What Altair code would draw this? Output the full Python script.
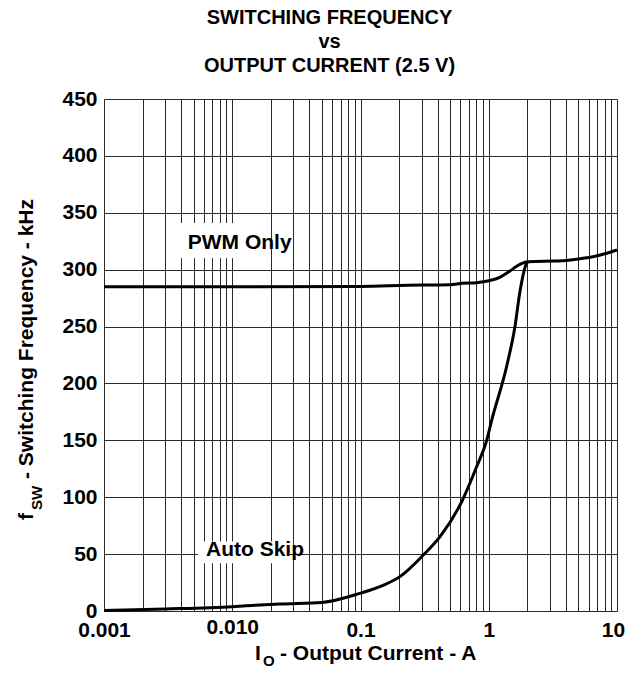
import altair as alt
import pandas as pd

# ---- data ----
pwm_x = [0.001, 0.01, 0.1, 0.2, 0.3, 0.5, 0.62, 0.8, 0.9, 1.02, 1.22, 1.47, 1.65, 1.86, 2.03, 3.2, 4.05, 5.14, 6.5, 8.3, 10]
pwm_y = [285, 285, 285.3, 286, 286.5, 286.8, 288, 288.5, 289.4, 290.5, 293.3, 299, 303, 306, 307, 307.6, 308, 309.6, 311.4, 314.4, 317.3]

skip_x = [0.001, 0.003, 0.01, 0.0164, 0.0236, 0.05, 0.099, 0.15, 0.203, 0.309, 0.417, 0.615, 0.804, 0.964, 1.055, 1.377, 1.60, 1.75, 1.97, 2.03]
skip_y = [0.5, 1.8, 3.8, 5.3, 6.2, 7.5, 15.5, 22.5, 30.2, 49.2, 65.3, 96, 126.8, 150, 167.8, 214.7, 249.8, 280.6, 305.5, 307]

x_tick_values = [0.001, 0.01, 0.1, 1, 10]
x_tick_labels = ["0.001", "0.010", "0.1", "1", "10"]
x_grid_values = sorted(set([m * 10.0 ** k for k in range(-3, 1) for m in range(1, 10)] + x_tick_values))
y_tick_values = [0, 50, 100, 150, 200, 250, 300, 350, 400, 450]

FONT = "Liberation Sans"
GRID = "#2a2a2a"

pwm_df = pd.DataFrame({"x": pwm_x, "y": pwm_y})
skip_df = pd.DataFrame({"x": skip_x, "y": skip_y})

label_expr = " : ".join(
    f"abs(datum.value - {v}) < 1e-9 ? '{l}'" for v, l in zip(x_tick_values, x_tick_labels)
) + " : ''"

x_axis = alt.Axis(
    values=x_grid_values, labelExpr=label_expr, grid=True, gridColor=GRID, gridWidth=1,
    ticks=False, domain=False, labelFont=FONT, labelFontSize=21, labelFontWeight="bold",
    labelColor="black", labelFlush=False, labelOverlap=False,
    labelPadding={"condition": {"test": "abs(datum.value - 0.01) < 1e-9", "value": 5}, "value": 8},
    labelOffset={"condition": {"test": "datum.value > 9", "value": -4}, "value": 0},
    title=None,
)
y_axis = alt.Axis(
    values=y_tick_values, grid=True, gridColor=GRID, gridWidth=1, ticks=False, domain=False,
    labelFont=FONT, labelFontSize=21, labelFontWeight="bold", labelColor="black",
    labelPadding=7, title=None,
)
x_scale = alt.Scale(type="log", domain=[0.001, 10], nice=False)
y_scale = alt.Scale(domain=[0, 450], nice=False)


def X(field):
    return alt.X(field, type="quantitative", scale=x_scale, axis=x_axis)


def Y(field):
    return alt.Y(field, type="quantitative", scale=y_scale, axis=y_axis)


# white boxes behind the curve labels
boxes = pd.DataFrame({"x0": [0.0033, 0.0054], "x1": [0.015, 0.028], "y0": [310, 42], "y1": [341, 61]})
box_layer = alt.Chart(boxes).mark_rect(color="white").encode(
    x=X("x0"), x2="x1", y=Y("y0"), y2="y1"
)

pwm_line = alt.Chart(pwm_df).mark_line(color="black", strokeWidth=3, interpolate="monotone").encode(x=X("x"), y=Y("y"))
skip_line = alt.Chart(skip_df).mark_line(color="black", strokeWidth=3, interpolate="monotone").encode(x=X("x"), y=Y("y"))

labels = pd.DataFrame({"x": [0.0045, 0.00624], "y": [318, 48.3], "t": ["PWM Only", "Auto Skip"]})
label_layer = alt.Chart(labels).mark_text(
    font=FONT, fontSize=21, fontWeight="bold", color="black", align="left", baseline="alphabetic"
).encode(x=X("x"), y=Y("y"), text="t")

# axis titles with subscripts
one = pd.DataFrame({"a": [0]})


def txt(s, px, py, size=21, angle=0):
    kw = dict(font=FONT, fontSize=size, fontWeight="bold", color="black", align="left",
              baseline="alphabetic", text=s)
    if angle:
        kw["angle"] = angle
    return alt.Chart(one).mark_text(**kw).encode(x=alt.value(px), y=alt.value(py))


title_parts = [
    txt("f", -71, 421, 21, 270),
    txt("SW", -62.3, 411, 15, 270),
    txt("- Switching Frequency - kHz", -71, 380, 21, 270),
    txt("I", 151, 561, 21),
    txt("O", 159, 567, 15),
    txt("- Output Current - A", 176, 561, 21),
]

chart = alt.layer(box_layer, pwm_line, skip_line, label_layer, *title_parts).properties(
    width=513,
    height=512,
    autosize=alt.AutoSizeParams(type="none"),
    padding={"left": 96, "top": 91, "right": 8, "bottom": 58},
    title=alt.TitleParams(
        text=["SWITCHING FREQUENCY", "vs", "OUTPUT CURRENT (2.5 V)"],
        font=FONT, fontSize=20, fontWeight="bold", color="black",
        lineHeight=24, offset=12, dx=-31, anchor="middle",
    ),
).configure_view(stroke="black", strokeWidth=2.5).configure(background="white")

chart.save("out.html", embed_options={"renderer": "svg", "actions": False})
